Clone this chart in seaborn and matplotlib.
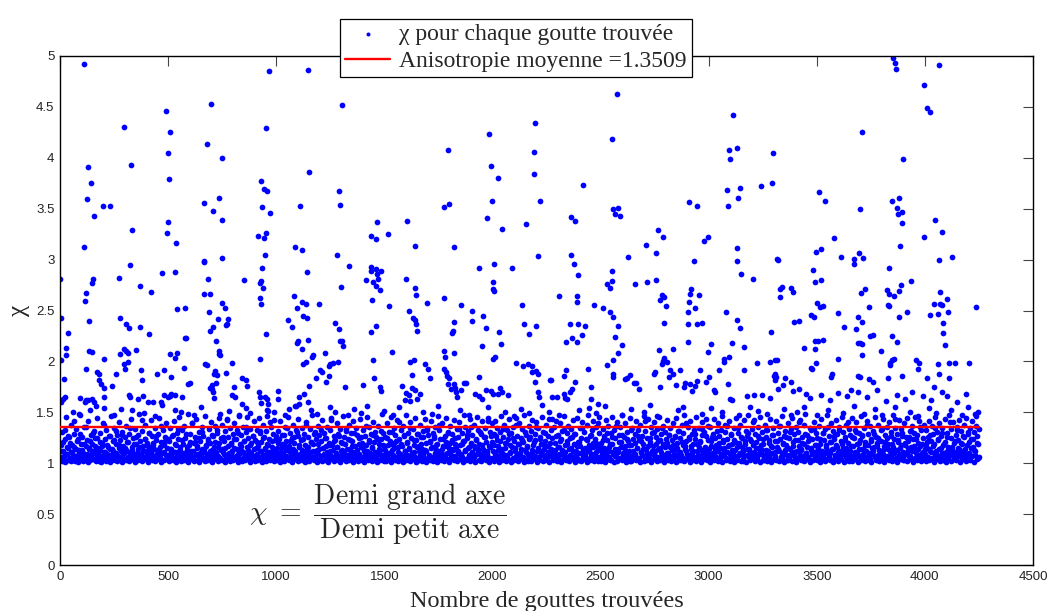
import numpy as np
import pandas as pd
import matplotlib
matplotlib.use("Agg")
import matplotlib.pyplot as plt
import seaborn as sns

# --- data ----------------------------------------------------------------
n_drops = 4250
chi_mean = 1.3509

# scattered values above the dense band: (drop number, chi)
high_0 = [(112, 4.92), (968, 4.85), (700, 4.53), (492, 4.46), (297, 4.30), (954, 4.29), (510, 4.25), (678, 4.14),
          (501, 4.05), (751, 4.00), (327, 3.93), (131, 3.91), (145, 3.75), (931, 3.77), (945, 3.69), (959, 3.67),
          (506, 3.79), (126, 3.60), (737, 3.61), (664, 3.56), (200, 3.53), (233, 3.53), (1108, 3.53), (936, 3.52),
          (706, 3.48), (973, 3.46), (159, 3.43), (751, 3.39), (501, 3.37), (334, 3.29), (496, 3.26), (917, 3.23),
          (954, 3.26), (945, 3.21), (538, 3.16), (112, 3.12), (1088, 3.12), (1118, 3.09), (950, 3.05), (751, 3.02),
          (664, 2.98), (668, 2.99), (325, 2.95), (936, 2.92), (2, 2.81), (274, 2.82), (686, 2.81), (850, 2.80),
          (473, 2.87), (533, 2.88), (931, 2.79), (927, 2.77), (940, 2.72), (154, 2.81), (150, 2.77), (122, 2.67),
          (117, 2.59), (369, 2.74), (422, 2.68), (664, 2.66), (692, 2.66), (1084, 2.64), (927, 2.62), (931, 2.56),
          (1118, 2.58), (6, 2.43), (136, 2.40), (279, 2.43), (307, 2.37), (320, 2.33), (369, 2.34), (543, 2.51),
          (577, 2.52), (691, 2.49), (748, 2.57), (762, 2.52), (732, 2.42), (775, 2.42), (771, 2.37), (767, 2.36),
          (706, 2.34), (692, 2.30), (1056, 2.41), (1074, 2.34), (1098, 2.52), (1125, 2.45), (38, 2.28), (413, 2.27),
          (954, 2.27), (580, 2.23), (584, 2.23), (720, 2.20), (1102, 2.20), (1096, 2.18), (1118, 2.12), (29, 2.13),
          (29, 2.06), (136, 2.10), (150, 2.09), (279, 2.07), (307, 2.10), (316, 2.08), (297, 2.12), (353, 2.11),
          (737, 2.10), (737, 2.07), (742, 2.06), (509, 2.07), (543, 2.08), (533, 2.03), (6, 2.01), (205, 2.02),
          (926, 2.02), (672, 1.97), (680, 1.96), (794, 1.98), (1125, 1.97), (296, 1.97), (302, 1.93), (316, 1.99),
          (122, 1.93), (373, 1.92), (378, 1.82), (170, 1.90), (180, 1.88), (182, 1.82), (205, 1.74), (190, 1.78),
          (259, 1.88), (450, 1.88), (480, 1.92), (575, 1.94), (515, 1.85), (716, 1.91), (726, 1.87), (710, 1.88),
          (770, 1.89), (840, 1.84), (859, 1.82), (864, 1.76), (20, 1.83), (601, 1.79), (590, 1.78), (702, 1.77),
          (704, 1.73), (706, 1.70), (712, 1.64), (720, 1.79), (803, 1.75), (5, 1.60), (12, 1.63), (22, 1.65),
          (94, 1.64), (122, 1.62), (117, 1.60), (131, 1.62), (150, 1.63), (156, 1.60), (165, 1.56), (205, 1.65),
          (205, 1.54), (242, 1.76), (319, 1.67), (323, 1.65), (333, 1.52), (361, 1.63), (385, 1.66), (409, 1.60),
          (432, 1.60), (465, 1.60), (470, 1.57), (480, 1.67), (509, 1.66), (512, 1.68), (533, 1.67), (500, 1.65),
          (564, 1.65), (694, 1.74), (794, 1.67), (810, 1.65), (840, 1.58), (860, 1.54), (920, 1.70), (923, 1.65),
          (928, 1.59), (950, 1.65), (958, 1.63), (964, 1.58), (958, 1.52), (962, 1.51), (1010, 1.71), (1010, 1.63),
          (1085, 1.56), (1090, 1.56), (1105, 1.58), (1105, 1.65), (60, 1.50), (88, 1.48), (140, 1.52), (250, 1.47),
          (280, 1.53), (390, 1.49), (440, 1.46), (530, 1.52), (560, 1.50), (620, 1.47), (650, 1.55), (740, 1.48),
          (780, 1.51), (830, 1.46), (880, 1.49), (990, 1.50), (1040, 1.47), (1060, 1.53)]

high_1 = [(1148, 4.86), (1306, 4.52), (2197, 4.34), (1984, 4.23), (1793, 4.08), (2191, 4.06), (1993, 3.92),
          (2191, 3.84), (2026, 3.80), (1150, 3.86), (1289, 3.67), (1294, 3.54), (1997, 3.58), (2218, 3.58),
          (1777, 3.52), (1798, 3.55), (1973, 3.41), (2154, 3.35), (1465, 3.37), (1606, 3.38), (1437, 3.23),
          (1460, 3.20), (1519, 3.25), (2043, 3.30), (1640, 3.13), (1821, 3.12), (1280, 3.05), (2211, 3.04),
          (1335, 2.94), (1440, 2.93), (1437, 2.89), (1461, 2.91), (1484, 2.89), (1466, 2.86), (1472, 2.81),
          (1413, 2.80), (1446, 2.78), (1460, 2.74), (1478, 2.70), (1936, 2.92), (2009, 2.96), (2092, 2.92),
          (1141, 2.88), (1599, 2.81), (1301, 2.73), (1642, 2.72), (1647, 2.65), (2003, 2.78), (2003, 2.71),
          (2009, 2.69), (1137, 2.56), (1196, 2.56), (1143, 2.43), (1441, 2.60), (1613, 2.50), (1633, 2.43),
          (1642, 2.41), (1647, 2.37), (1651, 2.30), (1523, 2.54), (1699, 2.57), (1774, 2.62), (1853, 2.55),
          (1904, 2.50), (1904, 2.40), (1956, 2.45), (1969, 2.33), (1821, 2.39), (1816, 2.30), (1812, 2.28),
          (2030, 2.29), (2038, 2.17), (2135, 2.55), (2146, 2.37), (2167, 2.27), (2200, 2.35), (1274, 2.38),
          (1289, 2.32), (1295, 2.20), (1305, 2.20), (1311, 2.15), (1437, 2.29), (1461, 2.35), (1145, 2.21),
          (1534, 2.09), (1172, 2.06), (1166, 2.04), (1227, 2.08), (1776, 2.10), (1781, 2.04), (1821, 2.08),
          (1950, 2.15), (2001, 2.02), (2010, 2.04), (1446, 2.01), (1620, 1.99), (1638, 2.01), (1140, 1.99),
          (1249, 1.97), (1262, 1.98), (1284, 1.99), (1203, 1.92), (1214, 1.90), (1245, 1.95), (1242, 1.86),
          (1230, 1.80), (1185, 1.84), (1689, 1.97), (1700, 1.93), (1709, 1.84), (1775, 1.93), (1785, 1.90),
          (1790, 1.86), (1797, 1.84), (1869, 1.79), (1936, 1.85), (2108, 1.98), (2140, 1.95), (2165, 1.97),
          (2182, 1.95), (2185, 1.90), (2203, 1.91), (2212, 1.88), (1630, 1.87), (1626, 1.74), (1640, 1.72),
          (1582, 1.76), (1602, 1.69), (1597, 1.62), (1612, 1.67), (1620, 1.61), (1665, 1.68), (1650, 1.63),
          (1317, 1.75), (1402, 1.77), (1451, 1.84), (1480, 1.75), (1484, 1.71), (1793, 1.78), (1808, 1.73),
          (1821, 1.78), (1827, 1.74), (1832, 1.70), (1835, 1.65), (1853, 1.72), (1876, 1.79), (1920, 1.68),
          (1938, 1.66), (1953, 1.63), (1968, 1.72), (1992, 1.71), (2003, 1.68), (2033, 1.74), (2025, 1.68),
          (2043, 1.70), (2074, 1.67), (2196, 1.80), (2210, 1.70), (2215, 1.65), (2264, 1.82), (1150, 1.76),
          (1130, 1.68), (1148, 1.60), (1160, 1.52), (1190, 1.48), (1250, 1.55), (1270, 1.50), (1330, 1.47),
          (1360, 1.53), (1390, 1.49), (1420, 1.56), (1500, 1.51), (1540, 1.47), (1570, 1.55), (1680, 1.50),
          (1720, 1.48), (1750, 1.56), (1850, 1.52), (1890, 1.47), (1980, 1.55), (2060, 1.50), (2100, 1.46),
          (2130, 1.53), (2170, 1.49), (2230, 1.57)]

high_2 = [(2575, 4.63), (3113, 4.42), (2553, 4.18), (3093, 4.08), (3131, 4.10), (3099, 3.99), (3298, 4.05),
          (2417, 3.73), (3242, 3.72), (3293, 3.75), (3083, 3.68), (3088, 3.53), (3143, 3.70), (3134, 3.61),
          (2908, 3.57), (2945, 3.53), (2556, 3.50), (2580, 3.51), (2565, 3.45), (2590, 3.43), (2365, 3.42),
          (2382, 3.38), (2766, 3.29), (2789, 3.22), (2978, 3.18), (2997, 3.22), (2710, 3.14), (2756, 3.06),
          (2625, 3.03), (2362, 3.05), (2377, 2.96), (2932, 2.99), (3132, 3.11), (3132, 2.99), (3316, 3.01),
          (3322, 3.00), (2396, 2.85), (3150, 2.86), (2551, 2.89), (2553, 2.79), (2542, 2.72), (2530, 2.76),
          (2658, 2.76), (2715, 2.78), (2757, 2.80), (3207, 2.81), (2920, 2.71), (2915, 2.66), (2908, 2.58),
          (2905, 2.49), (2955, 2.65), (2937, 2.52), (3328, 2.71), (3337, 2.73), (3330, 2.63), (3390, 2.68),
          (2306, 2.64), (2390, 2.64), (2390, 2.58), (2470, 2.55), (2785, 2.65), (2792, 2.63), (2775, 2.60),
          (2803, 2.54), (2510, 2.52), (2542, 2.49), (2557, 2.44), (2792, 2.38), (2905, 2.37), (2947, 2.37),
          (2970, 2.38), (3080, 2.49), (3130, 2.41), (3145, 2.33), (3288, 2.29), (3395, 2.39), (2360, 2.37),
          (2394, 2.37), (2427, 2.35), (2413, 2.26), (2370, 2.23), (2342, 2.19), (2390, 2.19), (2580, 2.35),
          (2568, 2.24), (2599, 2.16), (2580, 2.08), (2903, 2.19), (2770, 2.11), (2793, 2.03), (2788, 2.00),
          (2782, 1.97), (2808, 1.99), (2835, 2.12), (2998, 2.09), (3013, 2.17), (3110, 2.18), (3092, 2.04),
          (3073, 2.02), (3163, 2.14), (3224, 1.98), (3285, 1.99), (3307, 2.01), (3315, 2.01), (3300, 1.86),
          (3307, 1.82), (2530, 1.96), (2557, 2.01), (2558, 1.88), (2558, 1.85), (2272, 1.82), (2442, 1.93),
          (2330, 1.86), (2340, 1.92), (2612, 1.83), (2622, 1.84), (2636, 1.87), (2655, 1.79), (2665, 1.79),
          (2680, 1.73), (2745, 1.88), (2750, 1.90), (2775, 1.75), (2822, 1.92), (2818, 1.85), (2833, 1.88),
          (2850, 1.77), (2866, 1.92), (2892, 1.79), (2888, 1.75), (2912, 1.78), (2924, 1.71), (2936, 1.76),
          (2948, 1.81), (2960, 1.92), (2988, 1.80), (3003, 1.85), (3023, 1.72), (3031, 1.70), (3046, 1.92),
          (3072, 1.99), (3088, 1.78), (3099, 1.63), (3110, 1.62), (3165, 1.92), (3178, 1.66), (3210, 1.67),
          (3248, 1.67), (3283, 1.64), (3305, 1.88), (3312, 1.85), (3320, 1.73), (3342, 1.77), (3352, 1.84),
          (3380, 1.80), (3390, 1.71), (2275, 1.65), (2298, 1.65), (2330, 1.68), (2335, 1.64), (2346, 1.63),
          (2358, 1.70), (2367, 1.73), (2383, 1.80), (2455, 1.75), (2490, 1.58), (2445, 1.54), (2455, 1.63),
          (2260, 1.50), (2310, 1.47), (2400, 1.52), (2480, 1.49), (2520, 1.56), (2600, 1.47), (2640, 1.53),
          (2700, 1.50), (2730, 1.57), (2760, 1.46), (2860, 1.52), (2880, 1.55), (2970, 1.48), (3010, 1.54),
          (3060, 1.50), (3140, 1.47), (3190, 1.55), (3230, 1.51), (3270, 1.48), (3350, 1.53), (3380, 1.47)]

high_3 = [(3853, 4.98), (3862, 4.93), (3866, 4.87), (4065, 4.91), (3996, 4.72), (4008, 4.49), (4024, 4.45),
          (3709, 4.25), (3900, 3.99), (3510, 3.66), (3538, 3.58), (3700, 3.50), (3848, 3.58), (3880, 3.61),
          (3871, 3.51), (3876, 3.45), (3894, 3.47), (3894, 3.36), (4047, 3.39), (4079, 3.27), (3996, 3.22),
          (3580, 3.21), (3885, 3.13), (3497, 3.07), (3520, 3.10), (3612, 3.03), (3672, 3.01), (3674, 2.96),
          (3714, 3.02), (3695, 3.06), (4065, 3.00), (4125, 3.03), (3483, 2.90), (3834, 2.92), (3490, 2.78),
          (3520, 2.80), (3936, 2.79), (3382, 2.72), (3705, 2.67), (3723, 2.71), (3825, 2.70), (3832, 2.66),
          (3855, 2.64), (3880, 2.69), (3890, 2.75), (4070, 2.68), (3500, 2.57), (3515, 2.53), (3530, 2.54),
          (3475, 2.46), (3485, 2.44), (4040, 2.56), (4072, 2.56), (4080, 2.55), (4100, 2.61), (4108, 2.49),
          (4235, 2.53), (3828, 2.55), (3835, 2.54), (3740, 2.53), (3600, 2.48), (4024, 2.46), (3915, 2.49),
          (3880, 2.44), (4060, 2.47), (3420, 2.40), (3690, 2.44), (3710, 2.39), (3628, 2.34), (3680, 2.32),
          (4085, 2.38), (4085, 2.28), (4095, 2.16), (3745, 2.25), (3760, 2.26), (3850, 2.25), (3870, 2.19),
          (3490, 2.20), (3505, 2.20), (3530, 2.21), (3492, 2.12), (3690, 2.18), (3700, 2.18), (3708, 2.17),
          (3708, 2.06), (3440, 2.13), (3795, 2.10), (3600, 2.02), (3475, 1.94), (3480, 1.93), (3495, 1.98),
          (3840, 1.98), (3850, 2.01), (3855, 2.02), (3838, 1.96), (3960, 2.01), (3968, 1.93), (3975, 1.98),
          (4060, 1.97), (4110, 1.98), (4140, 1.98), (4205, 1.98), (3570, 1.88), (3567, 1.85), (3690, 1.86),
          (3700, 1.85), (3740, 1.83), (3760, 1.80), (3830, 1.84), (3895, 1.86), (4010, 1.84), (4065, 1.88),
          (4110, 1.84), (4040, 1.75), (4080, 1.70), (3420, 1.73), (3450, 1.68), (3470, 1.64), (3520, 1.67),
          (3560, 1.62), (3600, 1.69), (3640, 1.66), (3660, 1.72), (3690, 1.70), (3730, 1.65), (3780, 1.72),
          (3820, 1.61), (3870, 1.67), (3910, 1.63), (3940, 1.70), (3990, 1.66), (4030, 1.62), (4100, 1.66),
          (4150, 1.60), (4190, 1.68), (3410, 1.50), (3440, 1.55), (3500, 1.47), (3550, 1.52), (3620, 1.49),
          (3670, 1.56), (3720, 1.48), (3770, 1.53), (3800, 1.47), (3860, 1.55), (3930, 1.50), (3970, 1.46),
          (4020, 1.54), (4050, 1.49), (4120, 1.52), (4170, 1.47), (4200, 1.55), (4230, 1.48), (4245, 1.50)]

# dense band near chi = 1: one value every 4th drop per block of 500 drops (set a),
# and a second set shifted by two drops (set b)
band_a_0000 = [1.04, 1.12, 1.02, 1.21, 1.07, 1.33, 1.01, 1.09, 1.16, 1.03, 1.26, 1.05, 1.11, 1.02, 1.18, 1.08, 1.41, 1.03, 1.14, 1.06, 1.24, 1.01, 1.10, 1.29, 1.04,
               1.13, 1.02, 1.07, 1.19, 1.05, 1.36, 1.09, 1.01, 1.15, 1.22, 1.03, 1.08, 1.12, 1.30, 1.04, 1.17, 1.02, 1.06, 1.25, 1.10, 1.03, 1.13, 1.01, 1.20, 1.07,
               1.05, 1.38, 1.11, 1.02, 1.09, 1.16, 1.04, 1.27, 1.01, 1.08, 1.14, 1.06, 1.23, 1.03, 1.10, 1.32, 1.02, 1.07, 1.18, 1.05, 1.12, 1.01, 1.28, 1.09, 1.04,
               1.15, 1.03, 1.21, 1.06, 1.11, 1.02, 1.35, 1.08, 1.13, 1.04, 1.19, 1.01, 1.07, 1.26, 1.10, 1.03, 1.16, 1.05, 1.09, 1.42, 1.02, 1.12, 1.06, 1.24, 1.04,
               1.08, 1.17, 1.01, 1.30, 1.05, 1.11, 1.03, 1.20, 1.07, 1.14, 1.02, 1.27, 1.09, 1.04, 1.13, 1.06, 1.37, 1.01, 1.10, 1.18, 1.03, 1.22, 1.08, 1.05, 1.15]
band_a_0500 = [1.06, 1.02, 1.14, 1.09, 1.27, 1.03, 1.11, 1.05, 1.19, 1.01, 1.08, 1.34, 1.12, 1.04, 1.16, 1.02, 1.23, 1.07, 1.10, 1.03, 1.29, 1.05, 1.13, 1.01, 1.18,
               1.09, 1.04, 1.39, 1.06, 1.12, 1.02, 1.21, 1.08, 1.15, 1.03, 1.25, 1.01, 1.10, 1.07, 1.31, 1.04, 1.14, 1.02, 1.17, 1.06, 1.09, 1.22, 1.03, 1.12, 1.05,
               1.28, 1.01, 1.08, 1.16, 1.04, 1.11, 1.33, 1.02, 1.07, 1.20, 1.05, 1.13, 1.03, 1.26, 1.09, 1.01, 1.15, 1.06, 1.43, 1.04, 1.10, 1.02, 1.19, 1.08, 1.12,
               1.03, 1.24, 1.05, 1.07, 1.14, 1.01, 1.30, 1.09, 1.04, 1.17, 1.02, 1.11, 1.06, 1.22, 1.03, 1.36, 1.08, 1.13, 1.05, 1.01, 1.18, 1.10, 1.04, 1.27, 1.07,
               1.02, 1.15, 1.09, 1.21, 1.03, 1.06, 1.32, 1.12, 1.01, 1.08, 1.25, 1.04, 1.14, 1.02, 1.19, 1.07, 1.11, 1.03, 1.40, 1.05, 1.16, 1.09, 1.02, 1.23, 1.06]
band_a_1000 = [1.11, 1.03, 1.20, 1.06, 1.01, 1.15, 1.28, 1.04, 1.09, 1.02, 1.17, 1.07, 1.35, 1.05, 1.12, 1.03, 1.22, 1.08, 1.01, 1.14, 1.26, 1.04, 1.10, 1.06, 1.31,
               1.02, 1.18, 1.09, 1.05, 1.13, 1.03, 1.24, 1.07, 1.01, 1.38, 1.11, 1.04, 1.16, 1.02, 1.08, 1.21, 1.06, 1.12, 1.03, 1.29, 1.05, 1.10, 1.01, 1.19, 1.14,
               1.04, 1.07, 1.33, 1.02, 1.15, 1.09, 1.03, 1.25, 1.06, 1.11, 1.01, 1.18, 1.08, 1.42, 1.04, 1.13, 1.02, 1.22, 1.05, 1.09, 1.16, 1.03, 1.27, 1.07, 1.01,
               1.12, 1.20, 1.04, 1.10, 1.06, 1.34, 1.02, 1.14, 1.08, 1.03, 1.23, 1.05, 1.17, 1.01, 1.11, 1.30, 1.07, 1.04, 1.13, 1.02, 1.19, 1.09, 1.06, 1.26, 1.03,
               1.15, 1.01, 1.08, 1.37, 1.05, 1.12, 1.03, 1.21, 1.10, 1.04, 1.16, 1.02, 1.28, 1.07, 1.11, 1.05, 1.01, 1.24, 1.09, 1.14, 1.03, 1.32, 1.06, 1.18, 1.02]
band_a_1500 = [1.07, 1.13, 1.02, 1.25, 1.05, 1.10, 1.04, 1.19, 1.01, 1.31, 1.08, 1.15, 1.03, 1.22, 1.06, 1.11, 1.02, 1.40, 1.09, 1.04, 1.17, 1.01, 1.28, 1.07, 1.12,
               1.03, 1.20, 1.05, 1.14, 1.02, 1.35, 1.08, 1.10, 1.04, 1.23, 1.06, 1.01, 1.16, 1.29, 1.03, 1.12, 1.07, 1.19, 1.02, 1.09, 1.26, 1.05, 1.13, 1.01, 1.33,
               1.04, 1.08, 1.21, 1.03, 1.15, 1.06, 1.02, 1.27, 1.10, 1.05, 1.18, 1.01, 1.12, 1.38, 1.07, 1.03, 1.14, 1.09, 1.24, 1.02, 1.06, 1.17, 1.04, 1.30, 1.11,
               1.01, 1.20, 1.08, 1.05, 1.13, 1.03, 1.25, 1.07, 1.16, 1.02, 1.10, 1.34, 1.04, 1.09, 1.19, 1.06, 1.01, 1.22, 1.12, 1.03, 1.28, 1.05, 1.15, 1.08, 1.02,
               1.36, 1.11, 1.04, 1.17, 1.06, 1.01, 1.23, 1.09, 1.14, 1.03, 1.31, 1.07, 1.02, 1.18, 1.10, 1.05, 1.26, 1.03, 1.12, 1.08, 1.41, 1.01, 1.16, 1.04, 1.21]
band_a_2000 = [1.05, 1.18, 1.02, 1.09, 1.27, 1.04, 1.13, 1.01, 1.22, 1.07, 1.11, 1.03, 1.34, 1.06, 1.15, 1.02, 1.20, 1.08, 1.04, 1.29, 1.10, 1.01, 1.16, 1.05, 1.25,
               1.03, 1.12, 1.38, 1.07, 1.02, 1.19, 1.09, 1.04, 1.14, 1.23, 1.06, 1.01, 1.31, 1.11, 1.03, 1.17, 1.08, 1.05, 1.26, 1.02, 1.13, 1.10, 1.04, 1.21, 1.07,
               1.36, 1.01, 1.15, 1.06, 1.03, 1.24, 1.09, 1.12, 1.02, 1.18, 1.05, 1.30, 1.08, 1.04, 1.11, 1.01, 1.20, 1.14, 1.07, 1.43, 1.03, 1.10, 1.06, 1.27, 1.02,
               1.16, 1.05, 1.09, 1.22, 1.01, 1.13, 1.04, 1.33, 1.08, 1.11, 1.03, 1.19, 1.06, 1.02, 1.25, 1.15, 1.07, 1.04, 1.12, 1.29, 1.01, 1.09, 1.17, 1.05, 1.03,
               1.21, 1.10, 1.02, 1.35, 1.06, 1.14, 1.04, 1.08, 1.24, 1.01, 1.12, 1.18, 1.05, 1.03, 1.28, 1.09, 1.16, 1.02, 1.07, 1.20, 1.11, 1.04, 1.39, 1.06, 1.13]
band_a_2500 = [1.02, 1.10, 1.23, 1.05, 1.15, 1.01, 1.08, 1.30, 1.04, 1.12, 1.06, 1.19, 1.03, 1.26, 1.09, 1.01, 1.14, 1.07, 1.37, 1.02, 1.11, 1.21, 1.05, 1.16, 1.03,
               1.28, 1.08, 1.04, 1.13, 1.01, 1.24, 1.10, 1.06, 1.18, 1.02, 1.33, 1.07, 1.12, 1.04, 1.20, 1.09, 1.03, 1.15, 1.27, 1.05, 1.01, 1.11, 1.22, 1.08, 1.14,
               1.02, 1.41, 1.06, 1.10, 1.03, 1.17, 1.05, 1.25, 1.01, 1.12, 1.09, 1.31, 1.04, 1.07, 1.19, 1.02, 1.14, 1.06, 1.23, 1.03, 1.11, 1.35, 1.08, 1.01, 1.16,
               1.05, 1.20, 1.10, 1.03, 1.28, 1.07, 1.02, 1.13, 1.18, 1.04, 1.09, 1.26, 1.01, 1.15, 1.06, 1.32, 1.03, 1.11, 1.08, 1.21, 1.05, 1.02, 1.17, 1.12, 1.39,
               1.04, 1.07, 1.24, 1.01, 1.14, 1.10, 1.03, 1.19, 1.06, 1.29, 1.02, 1.12, 1.08, 1.16, 1.05, 1.22, 1.01, 1.34, 1.09, 1.04, 1.13, 1.07, 1.27, 1.03, 1.11]
band_a_3000 = [1.08, 1.01, 1.17, 1.04, 1.26, 1.10, 1.03, 1.14, 1.06, 1.32, 1.02, 1.12, 1.20, 1.05, 1.09, 1.01, 1.23, 1.15, 1.07, 1.38, 1.03, 1.11, 1.04, 1.18, 1.02,
               1.29, 1.06, 1.13, 1.09, 1.01, 1.21, 1.05, 1.16, 1.03, 1.35, 1.08, 1.10, 1.02, 1.25, 1.12, 1.04, 1.07, 1.19, 1.01, 1.14, 1.30, 1.06, 1.03, 1.11, 1.22,
               1.05, 1.09, 1.42, 1.02, 1.15, 1.07, 1.04, 1.27, 1.10, 1.01, 1.18, 1.13, 1.03, 1.24, 1.06, 1.08, 1.33, 1.02, 1.12, 1.05, 1.20, 1.09, 1.01, 1.16, 1.28,
               1.04, 1.11, 1.07, 1.03, 1.22, 1.14, 1.02, 1.37, 1.06, 1.10, 1.05, 1.19, 1.01, 1.13, 1.26, 1.08, 1.03, 1.15, 1.04, 1.31, 1.09, 1.02, 1.17, 1.11, 1.06,
               1.23, 1.01, 1.12, 1.05, 1.40, 1.08, 1.14, 1.03, 1.20, 1.07, 1.02, 1.29, 1.10, 1.04, 1.16, 1.06, 1.25, 1.01, 1.13, 1.09, 1.03, 1.34, 1.11, 1.05, 1.18]
band_a_3500 = [1.03, 1.15, 1.07, 1.24, 1.01, 1.11, 1.05, 1.30, 1.09, 1.02, 1.18, 1.13, 1.04, 1.36, 1.06, 1.10, 1.21, 1.03, 1.14, 1.01, 1.27, 1.08, 1.05, 1.16, 1.02,
               1.12, 1.33, 1.07, 1.04, 1.19, 1.10, 1.01, 1.23, 1.06, 1.15, 1.03, 1.40, 1.09, 1.12, 1.05, 1.02, 1.26, 1.17, 1.08, 1.04, 1.31, 1.11, 1.01, 1.14, 1.20,
               1.06, 1.03, 1.28, 1.09, 1.13, 1.02, 1.18, 1.05, 1.38, 1.07, 1.10, 1.04, 1.22, 1.01, 1.15, 1.12, 1.29, 1.06, 1.03, 1.17, 1.08, 1.25, 1.02, 1.11, 1.05,
               1.34, 1.09, 1.01, 1.14, 1.21, 1.04, 1.07, 1.19, 1.03, 1.12, 1.27, 1.06, 1.02, 1.16, 1.10, 1.43, 1.05, 1.13, 1.01, 1.23, 1.08, 1.04, 1.18, 1.30, 1.06,
               1.11, 1.03, 1.20, 1.09, 1.02, 1.15, 1.26, 1.07, 1.04, 1.32, 1.12, 1.01, 1.17, 1.05, 1.10, 1.24, 1.03, 1.14, 1.08, 1.36, 1.02, 1.19, 1.06, 1.11, 1.04]
band_a_4000 = [1.09, 1.02, 1.21, 1.06, 1.14, 1.03, 1.28, 1.11, 1.05, 1.17, 1.01, 1.35, 1.08, 1.12, 1.04, 1.23, 1.07, 1.02, 1.15, 1.30, 1.10, 1.03, 1.19, 1.06, 1.01,
               1.26, 1.13, 1.05, 1.09, 1.40, 1.02, 1.16, 1.08, 1.04, 1.22, 1.11, 1.03, 1.33, 1.07, 1.14, 1.01, 1.20, 1.06, 1.12, 1.27, 1.04, 1.09, 1.02, 1.18, 1.05,
               1.31, 1.10, 1.03, 1.15, 1.07, 1.24, 1.01, 1.13, 1.08, 1.37, 1.04, 1.19, 1.06]

band_b_0000 = [1.18, 1.06, 1.31, 1.12, 1.03, 1.24, 1.45, 1.09, 1.15, 1.27, 1.04, 1.20, 1.38, 1.11, 1.07, 1.29, 1.16, 1.02, 1.34, 1.22, 1.08, 1.13, 1.47, 1.05, 1.19,
               1.26, 1.10, 1.36, 1.03, 1.17, 1.23, 1.08, 1.41, 1.14, 1.06, 1.28, 1.19, 1.04, 1.32, 1.12, 1.25, 1.09, 1.44, 1.15, 1.02, 1.21, 1.30, 1.07, 1.17, 1.39,
               1.11, 1.24, 1.05, 1.33, 1.18, 1.08, 1.27, 1.14, 1.46, 1.03, 1.22, 1.12, 1.35, 1.09, 1.19, 1.28, 1.06, 1.40, 1.15, 1.23, 1.04, 1.31, 1.17, 1.10, 1.26,
               1.37, 1.13, 1.05, 1.21, 1.29, 1.08, 1.43, 1.16, 1.11, 1.25, 1.03, 1.34, 1.19, 1.07, 1.28, 1.14, 1.48, 1.22, 1.09, 1.32, 1.17, 1.04, 1.24, 1.38, 1.12,
               1.20, 1.06, 1.30, 1.15, 1.42, 1.10, 1.27, 1.18, 1.05, 1.35, 1.23, 1.13, 1.08, 1.29, 1.44, 1.16, 1.21, 1.03, 1.33, 1.19, 1.11, 1.26, 1.39, 1.07, 1.24]
band_b_0500 = [1.22, 1.09, 1.35, 1.14, 1.05, 1.28, 1.41, 1.11, 1.18, 1.30, 1.06, 1.24, 1.45, 1.13, 1.08, 1.33, 1.19, 1.03, 1.37, 1.25, 1.10, 1.16, 1.48, 1.07, 1.21,
               1.29, 1.12, 1.39, 1.04, 1.20, 1.26, 1.09, 1.43, 1.17, 1.08, 1.31, 1.22, 1.05, 1.36, 1.14, 1.27, 1.11, 1.46, 1.18, 1.03, 1.24, 1.34, 1.09, 1.20, 1.40,
               1.13, 1.27, 1.06, 1.37, 1.21, 1.10, 1.30, 1.16, 1.44, 1.04, 1.25, 1.14, 1.38, 1.11, 1.22, 1.32, 1.07, 1.42, 1.17, 1.26, 1.05, 1.35, 1.20, 1.12, 1.29,
               1.39, 1.15, 1.06, 1.24, 1.33, 1.09, 1.47, 1.19, 1.13, 1.28, 1.04, 1.36, 1.22, 1.08, 1.31, 1.16, 1.45, 1.25, 1.11, 1.34, 1.20, 1.05, 1.27, 1.41, 1.14,
               1.23, 1.07, 1.33, 1.17, 1.44, 1.12, 1.30, 1.21, 1.06, 1.38, 1.26, 1.15, 1.09, 1.32, 1.46, 1.18, 1.24, 1.04, 1.36, 1.22, 1.13, 1.29, 1.42, 1.08, 1.27]
band_b_1000 = [1.15, 1.32, 1.07, 1.24, 1.41, 1.11, 1.19, 1.03, 1.28, 1.36, 1.13, 1.22, 1.06, 1.45, 1.17, 1.30, 1.09, 1.25, 1.04, 1.38, 1.20, 1.12, 1.33, 1.08, 1.27,
               1.43, 1.16, 1.05, 1.23, 1.35, 1.10, 1.29, 1.18, 1.02, 1.40, 1.14, 1.26, 1.07, 1.34, 1.21, 1.11, 1.47, 1.19, 1.06, 1.31, 1.24, 1.13, 1.37, 1.09, 1.28,
               1.04, 1.22, 1.42, 1.15, 1.30, 1.08, 1.25, 1.17, 1.36, 1.03, 1.20, 1.33, 1.12, 1.44, 1.18, 1.06, 1.27, 1.23, 1.10, 1.39, 1.16, 1.29, 1.05, 1.34, 1.21,
               1.13, 1.46, 1.08, 1.26, 1.19, 1.32, 1.04, 1.24, 1.38, 1.14, 1.09, 1.30, 1.22, 1.41, 1.07, 1.17, 1.35, 1.11, 1.28, 1.03, 1.25, 1.43, 1.16, 1.20, 1.06,
               1.33, 1.12, 1.27, 1.18, 1.45, 1.09, 1.23, 1.36, 1.05, 1.29, 1.15, 1.40, 1.21, 1.10, 1.31, 1.26, 1.04, 1.37, 1.19, 1.13, 1.24, 1.48, 1.08, 1.30, 1.17]
band_b_1500 = [1.26, 1.10, 1.39, 1.18, 1.04, 1.31, 1.22, 1.45, 1.13, 1.07, 1.35, 1.20, 1.28, 1.05, 1.42, 1.16, 1.24, 1.09, 1.33, 1.19, 1.03, 1.37, 1.27, 1.12, 1.47,
               1.21, 1.08, 1.30, 1.15, 1.40, 1.25, 1.06, 1.34, 1.18, 1.11, 1.44, 1.23, 1.02, 1.29, 1.17, 1.38, 1.09, 1.26, 1.14, 1.32, 1.05, 1.43, 1.20, 1.12, 1.35,
               1.28, 1.07, 1.22, 1.41, 1.16, 1.30, 1.04, 1.25, 1.36, 1.13, 1.19, 1.46, 1.08, 1.33, 1.24, 1.11, 1.39, 1.17, 1.03, 1.27, 1.21, 1.44, 1.10, 1.31, 1.15,
               1.37, 1.06, 1.23, 1.29, 1.14, 1.42, 1.19, 1.05, 1.34, 1.26, 1.12, 1.40, 1.18, 1.08, 1.30, 1.22, 1.47, 1.13, 1.36, 1.04, 1.25, 1.32, 1.16, 1.43, 1.09,
               1.20, 1.28, 1.07, 1.38, 1.15, 1.24, 1.45, 1.11, 1.33, 1.19, 1.03, 1.29, 1.41, 1.14, 1.26, 1.06, 1.35, 1.21, 1.10, 1.44, 1.17, 1.31, 1.05, 1.27, 1.39]
band_b_2000 = [1.12, 1.29, 1.41, 1.08, 1.23, 1.35, 1.17, 1.04, 1.31, 1.46, 1.14, 1.26, 1.09, 1.38, 1.20, 1.06, 1.33, 1.24, 1.43, 1.11, 1.18, 1.30, 1.03, 1.36, 1.22,
               1.15, 1.44, 1.07, 1.27, 1.19, 1.39, 1.10, 1.25, 1.05, 1.34, 1.21, 1.47, 1.13, 1.28, 1.16, 1.02, 1.37, 1.24, 1.09, 1.32, 1.42, 1.18, 1.06, 1.29, 1.23,
               1.40, 1.12, 1.35, 1.04, 1.26, 1.19, 1.45, 1.08, 1.31, 1.14, 1.22, 1.38, 1.03, 1.27, 1.17, 1.43, 1.10, 1.33, 1.25, 1.07, 1.36, 1.20, 1.13, 1.41, 1.05,
               1.28, 1.16, 1.39, 1.09, 1.24, 1.32, 1.11, 1.46, 1.18, 1.04, 1.30, 1.22, 1.37, 1.14, 1.08, 1.34, 1.26, 1.42, 1.06, 1.19, 1.29, 1.12, 1.44, 1.21, 1.03,
               1.35, 1.17, 1.25, 1.40, 1.10, 1.31, 1.15, 1.05, 1.38, 1.23, 1.47, 1.13, 1.27, 1.09, 1.33, 1.20, 1.41, 1.07, 1.24, 1.36, 1.16, 1.02, 1.30, 1.45, 1.18]
band_b_2500 = [1.20, 1.05, 1.34, 1.27, 1.13, 1.42, 1.09, 1.23, 1.37, 1.16, 1.03, 1.30, 1.45, 1.19, 1.11, 1.33, 1.25, 1.07, 1.40, 1.14, 1.28, 1.04, 1.36, 1.21, 1.47,
               1.10, 1.26, 1.17, 1.39, 1.06, 1.31, 1.22, 1.12, 1.44, 1.18, 1.02, 1.35, 1.24, 1.08, 1.29, 1.41, 1.15, 1.33, 1.05, 1.23, 1.38, 1.11, 1.27, 1.19, 1.46,
               1.07, 1.32, 1.14, 1.25, 1.43, 1.09, 1.21, 1.36, 1.03, 1.30, 1.17, 1.40, 1.12, 1.26, 1.06, 1.34, 1.22, 1.45, 1.15, 1.29, 1.08, 1.37, 1.19, 1.04, 1.31,
               1.24, 1.42, 1.10, 1.28, 1.16, 1.35, 1.05, 1.23, 1.39, 1.13, 1.27, 1.07, 1.44, 1.20, 1.32, 1.11, 1.25, 1.03, 1.38, 1.18, 1.30, 1.47, 1.14, 1.22, 1.09,
               1.36, 1.26, 1.06, 1.41, 1.17, 1.29, 1.12, 1.33, 1.04, 1.24, 1.45, 1.19, 1.08, 1.35, 1.21, 1.13, 1.40, 1.28, 1.05, 1.31, 1.16, 1.43, 1.10, 1.23, 1.37]
band_b_3000 = [1.14, 1.36, 1.22, 1.06, 1.29, 1.43, 1.11, 1.25, 1.18, 1.03, 1.39, 1.27, 1.15, 1.33, 1.08, 1.46, 1.21, 1.12, 1.31, 1.05, 1.24, 1.37, 1.17, 1.41, 1.09,
               1.28, 1.19, 1.04, 1.35, 1.23, 1.13, 1.44, 1.07, 1.30, 1.20, 1.38, 1.10, 1.26, 1.16, 1.02, 1.42, 1.22, 1.32, 1.08, 1.27, 1.47, 1.14, 1.24, 1.05, 1.34,
               1.18, 1.40, 1.11, 1.29, 1.21, 1.06, 1.36, 1.25, 1.15, 1.45, 1.09, 1.31, 1.19, 1.03, 1.38, 1.26, 1.13, 1.33, 1.07, 1.23, 1.43, 1.17, 1.28, 1.10, 1.35,
               1.04, 1.22, 1.41, 1.16, 1.30, 1.12, 1.37, 1.24, 1.06, 1.46, 1.20, 1.27, 1.09, 1.32, 1.18, 1.03, 1.39, 1.25, 1.14, 1.34, 1.08, 1.44, 1.21, 1.29, 1.11,
               1.36, 1.05, 1.23, 1.31, 1.17, 1.42, 1.13, 1.26, 1.07, 1.38, 1.19, 1.48, 1.10, 1.28, 1.22, 1.04, 1.35, 1.15, 1.33, 1.24, 1.09, 1.40, 1.18, 1.30, 1.12]
band_b_3500 = [1.25, 1.08, 1.37, 1.19, 1.43, 1.12, 1.30, 1.05, 1.23, 1.34, 1.16, 1.47, 1.10, 1.27, 1.21, 1.03, 1.39, 1.14, 1.32, 1.24, 1.07, 1.42, 1.18, 1.29, 1.11,
               1.36, 1.04, 1.22, 1.45, 1.15, 1.31, 1.09, 1.26, 1.38, 1.13, 1.20, 1.02, 1.34, 1.28, 1.17, 1.44, 1.06, 1.25, 1.33, 1.11, 1.40, 1.19, 1.08, 1.30, 1.23,
               1.46, 1.14, 1.27, 1.05, 1.35, 1.21, 1.12, 1.41, 1.18, 1.29, 1.03, 1.37, 1.24, 1.09, 1.32, 1.16, 1.45, 1.07, 1.26, 1.20, 1.38, 1.13, 1.04, 1.33, 1.22,
               1.10, 1.43, 1.17, 1.28, 1.06, 1.36, 1.25, 1.14, 1.40, 1.08, 1.31, 1.19, 1.47, 1.12, 1.24, 1.35, 1.05, 1.29, 1.21, 1.42, 1.15, 1.09, 1.34, 1.27, 1.03,
               1.39, 1.18, 1.26, 1.11, 1.44, 1.22, 1.07, 1.32, 1.16, 1.37, 1.24, 1.04, 1.30, 1.45, 1.13, 1.28, 1.20, 1.06, 1.41, 1.17, 1.33, 1.10, 1.25, 1.38, 1.14]
band_b_4000 = [1.17, 1.33, 1.06, 1.26, 1.41, 1.12, 1.22, 1.37, 1.04, 1.29, 1.19, 1.45, 1.09, 1.31, 1.24, 1.14, 1.39, 1.07, 1.27, 1.35, 1.18, 1.03, 1.43, 1.21, 1.11,
               1.30, 1.16, 1.47, 1.08, 1.25, 1.34, 1.13, 1.40, 1.20, 1.05, 1.28, 1.36, 1.15, 1.23, 1.42, 1.10, 1.32, 1.19, 1.04, 1.38, 1.26, 1.14, 1.44, 1.09, 1.29,
               1.21, 1.35, 1.07, 1.24, 1.41, 1.16, 1.31, 1.12, 1.46, 1.20, 1.27, 1.05, 1.34]

x_ticks = [0, 500, 1000, 1500, 2000, 2500, 3000, 3500, 4000, 4500]
y_ticks = [0, 0.5, 1, 1.5, 2, 2.5, 3, 3.5, 4, 4.5, 5]

# --- assemble ---------------------------------------------------------------
band_step = 4
band_blocks = [(0, band_a_0000, band_b_0000), (500, band_a_0500, band_b_0500), (1000, band_a_1000, band_b_1000),
               (1500, band_a_1500, band_b_1500), (2000, band_a_2000, band_b_2000), (2500, band_a_2500, band_b_2500),
               (3000, band_a_3000, band_b_3000), (3500, band_a_3500, band_b_3500), (4000, band_a_4000, band_b_4000)]
rows = []
for start, vals_a, vals_b in band_blocks:
    for i, v in enumerate(vals_a):
        rows.append((start + 1 + band_step * i, v))
    for i, v in enumerate(vals_b):
        rows.append((start + 3 + band_step * i, v))
for block in (high_0, high_1, high_2, high_3):
    rows.extend(block)
df = pd.DataFrame(rows, columns=["goutte", "chi"])

sns.set_theme(style="white")
plt.rcParams["font.family"] = ["Liberation Sans", "DejaVu Sans"]
plt.rcParams["mathtext.fontset"] = "cm"
serif = ["Liberation Serif", "DejaVu Serif"]

fig = plt.figure(figsize=(10.5, 6.11), dpi=100)
ax = fig.add_axes([60 / 1050, 1 - 565 / 611, 973 / 1050, 509 / 611])

sns.scatterplot(data=df, x="goutte", y="chi", ax=ax, color="#0000ff", marker="o", s=17,
                linewidth=0, label="χ pour chaque goutte trouvée", zorder=2)
sns.lineplot(x=[1, n_drops], y=[chi_mean, chi_mean], ax=ax, color="#ff0000", linewidth=1.7,
             label=f"Anisotropie moyenne ={chi_mean}", zorder=3)

ax.set_xlim(0, 4500)
ax.set_ylim(0, 5)
ax.set_xticks(x_ticks)
ax.set_yticks(y_ticks)
ax.set_xticklabels([f"{t:g}" for t in x_ticks])
ax.set_yticklabels([f"{t:g}" for t in y_ticks])
ax.tick_params(direction="in", length=7, width=0.8, top=True, right=True,
               labelsize=9.5, labelcolor="#222222", color="#444444", pad=4)
for sp in ax.spines.values():
    sp.set_color("black")
    sp.set_linewidth(1.0)

ax.set_xlabel("Nombre de gouttes trouvées", family=serif, fontsize=17.5, labelpad=6)
ax.set_ylabel("χ", family=serif, fontsize=18, labelpad=4)

ax.text(0.327, 0.10, r"$\chi\ =\ \dfrac{\mathrm{Demi\ grand\ axe}}{\mathrm{Demi\ petit\ axe}}$",
        transform=ax.transAxes, ha="center", va="center", fontsize=20)

leg = ax.legend(loc="center", bbox_to_anchor=(516 / 1050, 1 - 48 / 611), bbox_transform=fig.transFigure,
                prop={"family": serif, "size": 17}, frameon=True, fancybox=False, framealpha=1,
                edgecolor="black", borderpad=0.2, labelspacing=0.25, handlelength=1.9,
                handletextpad=0.4, borderaxespad=0, markerscale=0.7)
leg.get_frame().set_linewidth(0.9)

fig.savefig("out.png", dpi=100)
